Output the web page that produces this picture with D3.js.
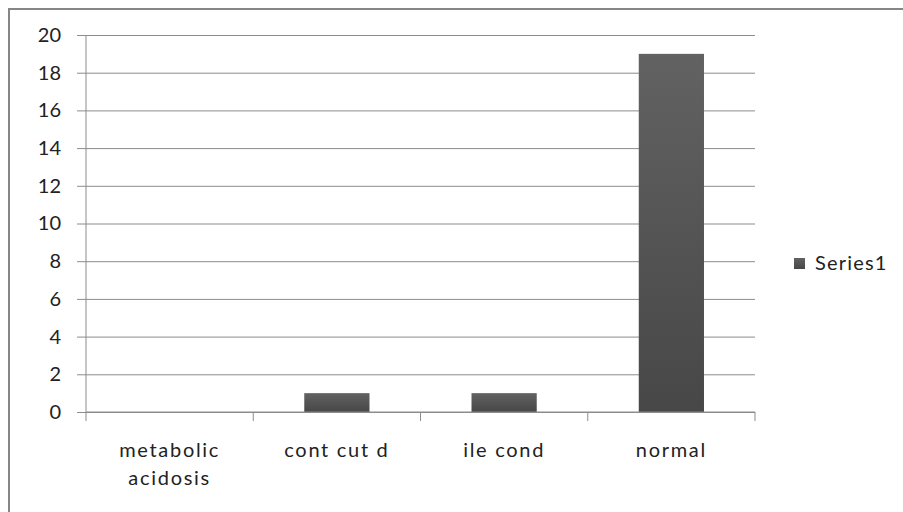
<!DOCTYPE html>
<html>
<head>
<meta charset="utf-8">
<script src="https://cdn.jsdelivr.net/npm/d3@7"></script>
<style>
  body { margin: 0; background: #fff; }
  text { font-family: Lato, "Open Sans", sans-serif; fill: #222; }
</style>
</head>
<body>
<div id="chart"></div>
<script>
// chart values
const categories = ["metabolic acidosis", "cont cut d", "ile cond", "normal"];
const values = [0, 1, 1, 19];
const yTicks = [0, 2, 4, 6, 8, 10, 12, 14, 16, 18, 20];
const seriesName = "Series1";

const W = 903, H = 512;
const margin = { top: 35, right: 148, bottom: 100, left: 86 };
const width = W - margin.left - margin.right;
const height = H - margin.top - margin.bottom;

const root = d3.select("#chart").append("svg")
    .attr("width", W)
    .attr("height", H);

// outer chart border (runs off the right / bottom edge)
root.append("rect")
    .attr("x", 9).attr("y", 9)
    .attr("width", 920).attr("height", 530)
    .attr("fill", "none")
    .attr("stroke", "#868686")
    .attr("stroke-width", 2);

const defs = root.append("defs");
const grad = defs.append("linearGradient")
    .attr("id", "barGrad")
    .attr("x1", 0).attr("y1", 0).attr("x2", 0).attr("y2", 1);
grad.append("stop").attr("offset", "0%").attr("stop-color", "#626262");
grad.append("stop").attr("offset", "100%").attr("stop-color", "#474747");

const svg = root.append("g")
    .attr("transform", `translate(${margin.left},${margin.top})`);

const x = d3.scaleBand()
    .domain(categories)
    .range([0, width])
    .paddingInner(0.61)
    .paddingOuter(0.305);

const y = d3.scaleLinear()
    .domain([0, 20])
    .range([height, 0]);

// gridlines + y axis
const yAxis = d3.axisLeft(y)
    .tickValues(yTicks)
    .tickSize(-width)
    .tickPadding(25);
svg.append("g")
    .attr("class", "y-axis")
    .call(yAxis)
    .call(g => g.select(".domain").remove())
    .call(g => g.selectAll(".tick line")
        .attr("x1", -9)
        .attr("stroke", "#8c8c8c"))
    .call(g => g.selectAll(".tick text")
        .style("font-size", "20px")
        .style("font-family", "Lato, sans-serif")
        .attr("fill", "#222"));

// vertical axis line
svg.append("line")
    .attr("x1", 0).attr("x2", 0)
    .attr("y1", 0).attr("y2", height)
    .attr("stroke", "#8c8c8c");

// bars
svg.selectAll(".bar")
    .data(categories.map((c, i) => ({ cat: c, v: values[i] })))
    .enter()
    .append("rect")
    .attr("class", "bar")
    .attr("x", d => x(d.cat))
    .attr("y", d => y(d.v))
    .attr("width", x.bandwidth())
    .attr("height", d => height - y(d.v))
    .attr("fill", "url(#barGrad)");

// x axis
const step = width / categories.length;
const xAxis = svg.append("g")
    .attr("transform", `translate(0,${height})`);
xAxis.append("line")
    .attr("x1", 0).attr("x2", width)
    .attr("stroke", "#8c8c8c");
xAxis.selectAll(".xtick")
    .data(d3.range(categories.length + 1))
    .enter()
    .append("line")
    .attr("x1", d => d * step).attr("x2", d => d * step)
    .attr("y1", 0).attr("y2", 9)
    .attr("stroke", "#8c8c8c");

const labels = xAxis.selectAll(".xlabel")
    .data(categories)
    .enter()
    .append("text")
    .attr("text-anchor", "middle")
    .attr("transform", d => `translate(${x(d) + x.bandwidth() / 2},0)`)
    .style("font-size", "20px")
    .style("letter-spacing", "1.7px");
labels.each(function(d) {
    const lines = d === "metabolic acidosis" ? ["metabolic", "acidosis"] : [d];
    const t = d3.select(this);
    lines.forEach((l, i) => {
        t.append("tspan").attr("x", 0).attr("y", 45 + i * 28).text(l);
    });
});

// legend
const legend = root.append("g")
    .attr("transform", "translate(794,258)");
legend.append("rect")
    .attr("width", 11).attr("height", 11)
    .attr("fill", "url(#barGrad)");
legend.append("text")
    .attr("x", 21).attr("y", 12)
    .style("font-size", "20px")
    .style("letter-spacing", "1.2px")
    .text(seriesName);
</script>
</body>
</html>
